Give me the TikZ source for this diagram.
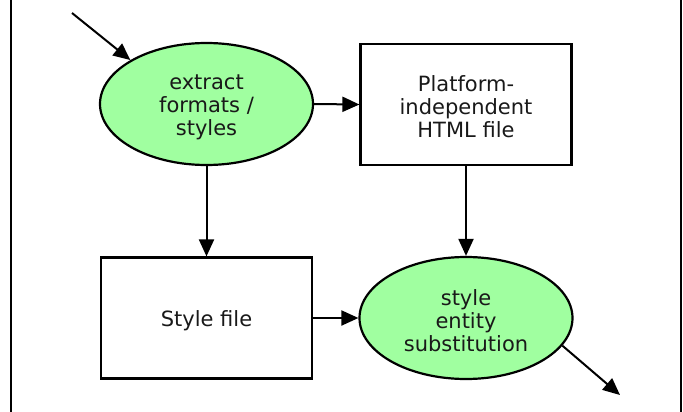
\documentclass[tikz,border=0pt]{standalone}
\usepackage{fontspec}
\setmainfont{DejaVu Sans}
\usetikzlibrary{arrows.meta,shapes.geometric}
\definecolor{procgreen}{RGB}{160,255,160}
% a tall invisible strut that sets the labels a little lower in their shapes
\newcommand{\lowstrut}{\rule{0pt}{21pt}}
\tikzset{
  every picture/.style={x=1pt,y=-1pt},
  lbl/.style={font=\fontsize{21}{23}\selectfont, align=center, text=black!90},
  proc/.style={lbl, ellipse, draw, line width=2.2pt, fill=procgreen,
               minimum width=213pt, minimum height=122pt, inner sep=0pt},
  doc/.style={lbl, rectangle, draw, line width=2.2pt, fill=white,
              minimum width=211pt, minimum height=121pt, inner sep=0pt},
  flow/.style={line width=2pt, -{Triangle[length=17pt,width=15pt]}},
  frame/.style={line width=2.2pt}
}
\begin{document}
\begin{tikzpicture}
\useasboundingbox (0,0) rectangle (683,412);
% side rules of the frame
\draw[frame] (11,0) -- (11,412);
\draw[frame] (681,0) -- (681,412);

% nodes
\node[proc] (extract) at (206.5,104) {\lowstrut extract\\formats /\\styles};
\node[doc]  (html)    at (466,104.5) {\lowstrut Platform-\\independent\\HTML file};
\node[doc]  (stylef)  at (206.5,318) {\lowstrut Style file};
\node[proc] (subst)   at (466,318) {\lowstrut style\\entity\\substitution};

\coordinate (in)  at (72,13);
\coordinate (out) at (620,395);

% connectors
\draw[flow] (in) -- (extract.150);
\draw[flow] (extract.east) -- (html.west);
\draw[flow] (extract.south) -- (stylef.north);
\draw[flow] (html.south) -- (subst.north);
\draw[flow] (stylef.east) -- (subst.west);
\draw[flow] (subst.-16) -- (out);
\end{tikzpicture}
\end{document}
